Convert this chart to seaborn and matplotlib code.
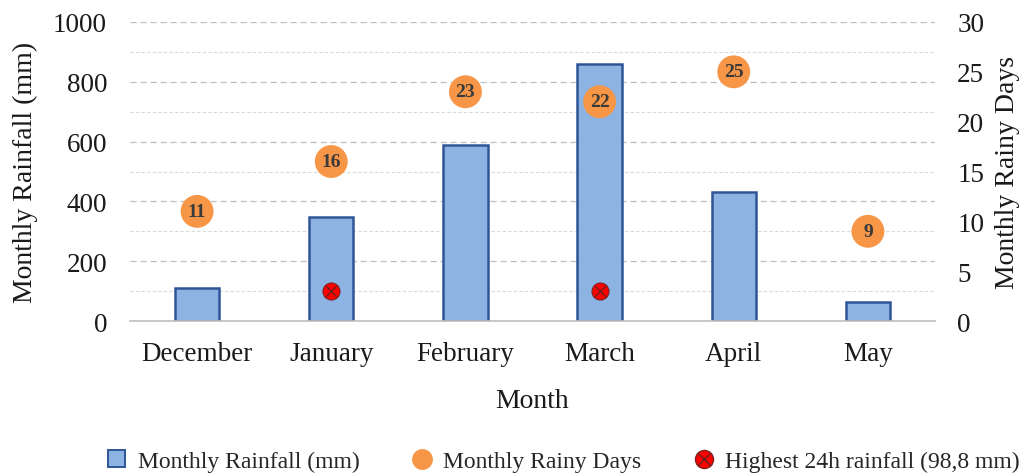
import numpy as np
import pandas as pd
import matplotlib
matplotlib.use("Agg")
import matplotlib.pyplot as plt
import seaborn as sns
from matplotlib.lines import Line2D
from matplotlib.patches import Patch
from matplotlib.ticker import MultipleLocator

months = ["December", "January", "February", "March", "April", "May"]
rainfall_mm = [112, 348, 588, 858, 430, 62]
rainy_days = [11, 16, 23, 22, 25, 9]
max24_months = ["January", "March"]
max24_values = [98.8, 98.8]

sns.set_theme(style="white")
plt.rcParams["font.family"] = ["Liberation Serif", "DejaVu Serif"]

BAR_FILL = "#8DB3E2"
BAR_EDGE = "#2F5597"
ORANGE = "#F79646"
TXT = "#1a1a1a"

fig = plt.figure(figsize=(10.22, 4.77), dpi=100)
ax = fig.add_axes([130/1022, 1-322/477, (935-130)/1022, (322-23)/477])

df = pd.DataFrame({"Month": months, "Rain": rainfall_mm})
sns.barplot(data=df, x="Month", y="Rain", ax=ax, color=BAR_FILL, saturation=1,
            width=0.33, edgecolor=BAR_EDGE, linewidth=1.8, zorder=2)
ax.set_xlim(-0.5, 5.5)
ax.set_ylim(0, 1000)
ax.yaxis.set_major_locator(MultipleLocator(200))
ax.yaxis.set_minor_locator(MultipleLocator(100))
ax.grid(True, which="major", axis="y", color="#BFBFBF", linestyle=(0, (5, 3)), linewidth=0.9, zorder=0)
ax.grid(True, which="minor", axis="y", color="#D9D9D9", linestyle=(0, (3, 2)), linewidth=0.8, zorder=0)
ax.set_axisbelow(True)
for s in ["top", "right", "left"]:
    ax.spines[s].set_visible(False)
ax.spines["bottom"].set_color("#BFBFBF")
ax.spines["bottom"].set_linewidth(1.2)
ax.tick_params(axis="both", which="both", length=0, labelsize=19.5, colors=TXT)
ax.tick_params(axis="x", pad=14.5)
ax.tick_params(axis="y", pad=16.5)
ax.set_xlabel("Month", fontsize=20, labelpad=16, color=TXT)
ax.set_ylabel("Monthly Rainfall (mm)", fontsize=20, labelpad=11, color=TXT)

# highest 24h rainfall markers
pos = [months.index(m) for m in max24_months]
ax.scatter(pos, max24_values, s=150, color="red", edgecolor="#7f1f1f", linewidth=0.8, zorder=5)
ax.scatter(pos, max24_values, s=55, marker="x", color="#6b2020", linewidth=1.0, zorder=6)

ax2 = ax.twinx()
dd = pd.DataFrame({"x": np.arange(len(months)), "Days": rainy_days})
sns.scatterplot(data=dd, x="x", y="Days", ax=ax2, s=560, color=ORANGE, edgecolor="none", zorder=4, legend=False)
for i, d in enumerate(rainy_days):
    ax2.text(i, d, str(d), ha="center", va="center", fontsize=14, fontweight="bold", color="#3a3a3a", zorder=6)
ax2.set_xlim(-0.5, 5.5)
ax2.set_ylim(0, 30)
ax2.yaxis.set_major_locator(MultipleLocator(5))
for s in ["top", "right", "left", "bottom"]:
    ax2.spines[s].set_visible(False)
ax2.tick_params(axis="y", length=0, labelsize=19.5, colors=TXT, pad=16)
ax2.set_ylabel("Monthly Rainy Days", fontsize=20, labelpad=8, color=TXT)
ax2.grid(False)

handles = [
    Patch(facecolor=BAR_FILL, edgecolor=BAR_EDGE, linewidth=1.4),
    Line2D([], [], marker="o", linestyle="none", markersize=15, markerfacecolor=ORANGE, markeredgecolor="none"),
    (Line2D([], [], marker="o", linestyle="none", markersize=13, markerfacecolor="red", markeredgecolor="#7f1f1f"),
     Line2D([], [], marker="x", linestyle="none", markersize=8, markeredgecolor="#6b2020", markeredgewidth=1.0)),
]
labels = ["Monthly Rainfall (mm)", "Monthly Rainy Days", "Highest 24h rainfall (98,8 mm)"]
leg = fig.legend(handles, labels, loc="center", bbox_to_anchor=(0.552, 1-462/477), ncol=3,
                 frameon=False, fontsize=17, handlelength=0.7, handleheight=0.7,
                 columnspacing=2.3, handletextpad=0.55)

fig.savefig("out.png", dpi=100)
